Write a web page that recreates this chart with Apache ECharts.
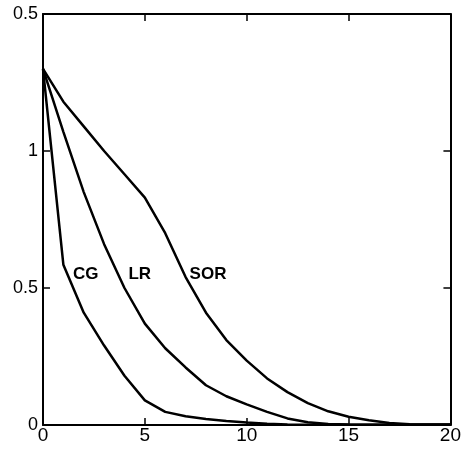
<!DOCTYPE html>
<html>
<head>
<meta charset="utf-8">
<script src="https://cdn.jsdelivr.net/npm/echarts@6/dist/echarts.min.js"></script>
<style>
html,body{margin:0;padding:0;background:#fff;}
#c{width:464px;height:451px;}
</style>
</head>
<body>
<div id="c"></div>
<script>
// Data
const xValues = [0,1,2,3,4,5,6,7,8,9,10,11,12,13,14,15,16,17,18,19,20];
const cgValues  = [1.30,0.585,0.41,0.29,0.18,0.09,0.048,0.032,0.022,0.015,0.009,0.005,0.002,0.001,0.001,0.001,0.001,0.001,0.001,0.001,0.001];
const lrValues  = [1.30,1.07,0.85,0.66,0.50,0.37,0.28,0.21,0.145,0.105,0.075,0.048,0.024,0.01,0.004,0.002,0.001,0.001,0.001,0.001,0.001];
const sorValues = [1.30,1.18,1.09,1.00,0.915,0.83,0.70,0.54,0.41,0.31,0.235,0.17,0.12,0.08,0.05,0.03,0.017,0.007,0.003,0.002,0.002];
const seriesNames = ['CG','LR','SOR'];
const labelPos = [[2.1,0.55],[4.75,0.55],[8.1,0.55]];
const yTickLabels = {0:'0',0.5:'0.5',1:'1',1.5:'0.5'};

const font = '"Liberation Sans", Arial, sans-serif';
const allSeries = [cgValues, lrValues, sorValues];

const chart = echarts.init(document.getElementById('c'), null, {renderer:'canvas'});
const axisLine = {show:true, onZero:false, lineStyle:{color:'#000', width:2}};
const tick = {show:true, inside:true, length:7, lineStyle:{color:'#000', width:1.5}};
chart.setOption({
  animation:false,
  backgroundColor:'#fff',
  grid:{left:43, right:12, top:14, bottom:26, containLabel:false},
  xAxis:[
    {type:'value', min:0, max:20, interval:5, position:'bottom',
     axisLine:axisLine, axisTick:tick, splitLine:{show:false},
     axisLabel:{color:'#000', fontSize:19, fontFamily:font, margin:1}},
    {type:'value', min:0, max:20, interval:5, position:'top',
     axisLine:axisLine, axisTick:tick, splitLine:{show:false},
     axisLabel:{show:false}}
  ],
  yAxis:[
    {type:'value', min:0, max:1.5, interval:0.5, position:'left',
     axisLine:axisLine, axisTick:tick, splitLine:{show:false},
     axisLabel:{color:'#000', fontSize:18, fontFamily:font, margin:5,
       formatter:v => yTickLabels[v] !== undefined ? yTickLabels[v] : String(v)}},
    {type:'value', min:0, max:1.5, interval:0.5, position:'right',
     axisLine:axisLine, axisTick:tick, splitLine:{show:false},
     axisLabel:{show:false}}
  ],
  series: seriesNames.map((name,i)=>({
    name:name, type:'line', xAxisIndex:0, yAxisIndex:0,
    data:xValues.map((x,j)=>[x, allSeries[i][j]]),
    showSymbol:false, symbol:'none', smooth:false,
    lineStyle:{color:'#000', width:2.5},
    markPoint:{
      symbol:'circle', symbolSize:0,
      data:[{coord:labelPos[i], value:name}],
      label:{show:true, position:'inside', formatter:name, color:'#000',
             fontSize:17, fontWeight:'bold', fontFamily:font}
    }
  }))
});
</script>
</body>
</html>
